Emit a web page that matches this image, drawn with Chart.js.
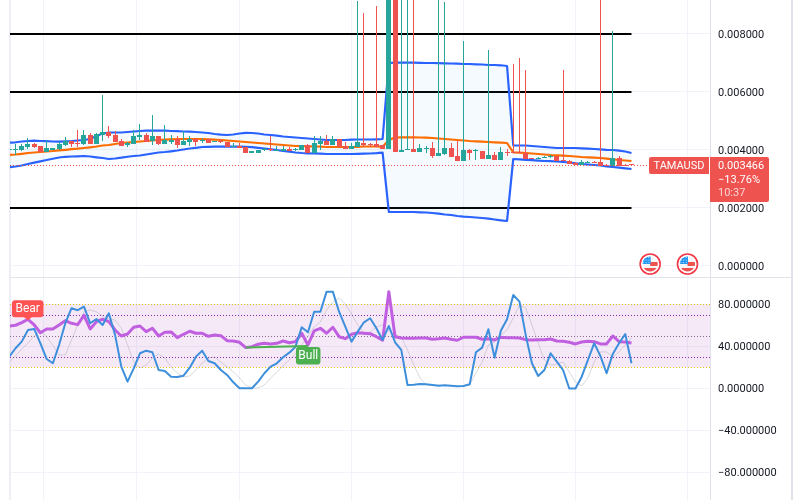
<!DOCTYPE html>
<html><head><meta charset="utf-8">
<style>html,body{margin:0;padding:0;background:#fff}canvas{display:block}</style>
<script src="https://cdn.jsdelivr.net/npm/chart.js@4/dist/chart.umd.js"></script>
</head><body><canvas id="c" width="802" height="500"></canvas>
<script>
const symbol='TAMAUSD';
const lastPrice=0.003466, changeText='\u221213.76%', countdownText='10:37';
const priceTicks=[0.008,0.006,0.004,0.002,0];
const oscTicks=[80,40,0,-40,-80];
const levelLines=[0.008,0.006,0.002];
const gridIndex=[13,28,46,64,82,100];
const eventIndex=[103,109];
const open=[.00399,.004,.004,.004114,.004207,.004138,.003931,.004,.004034,.004172,
.00431,.004224,.004207,.004517,.004207,.004517,.004621,.004517,.00431,.004172,
.004207,.004459,.004517,.00431,.004483,.004207,.004286,.004379,.004172,.004286,
.004379,.00431,.004379,.004276,.004321,.004276,.004103,.004138,.004103,.003897,
.003897,.003983,.004017,.003966,.003966,.004034,.004,.004,.004172,.003897,
.004207,.00431,.004172,.004379,.004138,.004034,.004103,.004241,.004207,.004207,
.004172,.004034,.0105,.003931,.004,.004034,.003931,.004034,.004069,.003793,
.003862,.004069,.003793,.003621,.004,.003966,.003966,.00369,.003828,.003655,
.003931,.003931,.003931,.003897,.003724,.00369,.003724,.003759,.003793,.003655,
.003621,.003552,.003483,.003552,.003586,.003586,.003483,.003448,.003724,.003483,
.003483];
const close=[.004,.004034,.004138,.004207,.004114,.003931,.004069,.004069,.004207,.00431,
.004217,.00419,.004517,.004207,.004552,.004621,.004483,.004276,.004138,.004241,
.004483,.004517,.004276,.004483,.004207,.004345,.004345,.004172,.00431,.004379,
.004276,.004345,.004241,.00431,.004276,.004103,.004138,.004069,.003897,.003966,
.004,.004017,.003983,.004,.004034,.003966,.004034,.004172,.003897,.004241,
.00431,.004172,.004379,.004103,.004034,.004138,.004276,.004172,.004172,.004103,
.004034,.0105,.003931,.004,.004034,.003931,.004069,.004069,.003793,.003897,
.004069,.003759,.003621,.004,.003897,.004,.00369,.003828,.003655,.003931,
.003897,.003897,.003897,.00369,.00369,.003724,.003759,.003793,.003621,.003621,
.003517,.003483,.003586,.003586,.003552,.003448,.003448,.003724,.003448,.003448,
.003466];
const high=[.004,.004207,.00419,.004404,.004231,.004138,.004345,.004069,.004276,.004448,
.00431,.00469,.00469,.004586,.004586,.005897,.004828,.004655,.004379,.004276,
.00469,.004897,.004586,.005207,.004483,.004862,.004517,.004483,.004655,.004483,
.004414,.004414,.004379,.00431,.004379,.004276,.004241,.004241,.004103,.003966,
.004,.004069,.004483,.004138,.004138,.004103,.004069,.004172,.004207,.004483,
.004483,.004517,.004483,.004379,.004276,.004241,.009138,.008724,.004241,.008966,
.004172,.0115,.0115,.01,.01,.01,.004207,.004138,.004276,.01,
.009103,.004241,.00431,.007759,.004034,.004034,.003966,.007448,.003931,.004103,
.004034,.006966,.007172,.006759,.003724,.003759,.003793,.003828,.003793,.006759,
.003655,.003586,.003655,.003621,.003621,.01,.003517,.008103,.003793,.003517,
.003483];
const low=[.003985,.003828,.003966,.004034,.004059,.003931,.003931,.004,.004,.004138,
.004103,.004114,.004172,.004207,.004207,.00431,.004414,.004276,.004138,.004114,
.004207,.004345,.004276,.004172,.004172,.004207,.004207,.004069,.004172,.004138,
.004138,.004241,.004241,.004276,.004241,.004103,.004103,.004069,.003897,.003897,
.003897,.003966,.003966,.003966,.003966,.003966,.003966,.004,.003897,.003897,
.004,.004172,.004172,.004103,.004034,.004034,.004103,.004103,.004103,.004103,
.004034,.004034,.003931,.003931,.004,.003931,.003931,.003897,.003724,.003793,
.003828,.003759,.003621,.003621,.003655,.003655,.00369,.00369,.003655,.003655,
.003793,.003897,.003897,.00369,.00369,.00369,.003724,.003724,.003621,.003621,
.003517,.003483,.003483,.003552,.003552,.003448,.003448,.003448,.003448,.003448,
.003448];
const bandUpper=[.004252,.004266,.004293,.00431,.004321,.00431,.004303,.004293,.004286,.0043,
.00431,.004328,.004345,.004379,.004483,.004569,.004603,.004603,.004603,.004621,
.004638,.004655,.004666,.004666,.004666,.004666,.004655,.004648,.004638,.004631,
.004621,.004603,.004586,.004552,.004528,.004517,.004534,.004569,.004593,.004586,
.004569,.004534,.004517,.004493,.004466,.004448,.004431,.004414,.004397,.004379,
.004362,.004345,.004345,.004345,.004345,.004355,.004362,.004362,.004362,.004369,
.004379,.007,.00701,.00701,.00701,.00701,.007007,.007,.007,.006993,
.00699,.006983,.006976,.006966,.006966,.006955,.006948,.006931,.006931,.006921,
.006897,.004155,.004155,.004155,.004138,.004121,.004103,.004086,.004069,.004069,
.004069,.004069,.004059,.004045,.004034,.004024,.004007,.004,.003976,.003948,
.003897];
const bandMiddle=[.003828,.003845,.003869,.003897,.003914,.003931,.003948,.003966,.00399,.004007,
.004028,.004045,.004069,.004093,.004121,.004155,.004172,.004207,.004241,.004259,
.004276,.004293,.00431,.004328,.004345,.004355,.004366,.004379,.004379,.004379,
.004379,.004379,.004369,.004355,.004345,.004328,.00431,.004293,.004276,.004259,
.004241,.004224,.004207,.00419,.004172,.004155,.004138,.004138,.004128,.004121,
.004114,.004103,.004103,.004103,.004103,.004103,.00411,.004121,.004121,.004121,
.004114,.004345,.004431,.004438,.004438,.004438,.004431,.004424,.004414,.004397,
.004379,.004362,.004345,.004328,.00431,.0043,.004286,.004276,.004266,.004252,
.004241,.003921,.003907,.003897,.003879,.003862,.003845,.003828,.003817,.003803,
.003793,.003776,.003759,.003748,.003734,.003724,.0037,.003679,.003655,.003638,
.003621];
const bandLower=[.003403,.003431,.003466,.003517,.003562,.00361,.003655,.003697,.003741,.003766,
.003776,.003783,.003793,.003776,.003748,.003724,.00369,.003707,.003734,.003766,
.003793,.00381,.003845,.003879,.003914,.003931,.003955,.003983,.004017,.004052,
.004076,.004103,.00411,.004114,.004114,.004114,.004114,.004114,.00411,.004097,
.004076,.004052,.004024,.004,.003966,.003941,.003914,.003897,.003886,.003879,
.003872,.003862,.003862,.003862,.003862,.003862,.003869,.003872,.003879,.00389,
.003907,.001862,.001862,.001862,.001862,.001862,.001852,.001845,.001828,.001803,
.001776,.001759,.001724,.0017,.00169,.001672,.001655,.001631,.001603,.001576,
.001552,.00369,.003679,.003662,.003648,.003634,.003621,.003614,.003603,.003586,
.003569,.003541,.003517,.0035,.003483,.003466,.003438,.003414,.00339,.003369,
.003345];
const oscBlue=[30.3,38.3,44.6,55.7,56.7,43,28.1,24,41.4,62.1,
76.4,74.5,77.9,62.1,66.2,60.5,71.6,51,20.8,6.5,
19.2,33.5,36,34.5,17.6,16.7,11.2,11,12.2,19.8,
30.3,36,26.2,24,17.6,12.9,5.9,.2,.2,.2,
6.5,14.5,20.8,24,29.7,34.1,39.8,58.3,53.5,73.1,
73.1,92.2,92.2,73.1,58.9,44.6,54.1,63,66.9,57.3,
46.2,59.5,44,36.7,3.3,3.6,4.3,4,3.3,2.7,
3,2.7,2.1,2.4,4,34.5,38.9,56.4,29.3,55,
65.9,89,82.7,51,24,11.9,17.6,33.5,25.5,17.6,
0,0,11.2,27.1,43,31,14.5,32.9,43,51.9,
24];
const oscPurple=[59.5,60.2,62.7,65.9,60.5,53.1,56.7,56.7,60.5,64.6,
62.1,60.8,69.7,56.7,63.6,65.9,63.6,55.7,50,51.9,
58.3,59.5,54.1,57.3,50,53.5,53.8,48.4,51.6,54.5,
52.6,52.6,49.7,51,50.3,45.5,45.2,44,38.9,39.8,
42.1,43,42.4,43,45.2,43.6,44.6,52.6,41.4,54.8,
57.3,52.6,58.3,49.3,47.4,51.6,53.1,52.6,52.2,49.3,
45.9,92.2,49.3,48.1,47.8,47.8,48.1,48.1,46.9,47.4,
48.1,46.9,45.9,48.8,48.8,48.8,46.9,47.4,46.2,48.8,
48.4,48.4,48.1,46.5,46.2,46.5,46.5,47.1,45.2,45,
44,42.4,44.3,45,44.6,42.4,42.4,50,44.6,44.3,
43.3];
const oscGrey=[25.2,31,37.6,43.3,50,54.8,49,41.4,31.9,31.9,
46.2,60.5,72.9,74.8,72.9,69,66.2,65.2,57.6,41.4,
25.2,19.5,22.4,29,32.9,29,20.5,14.8,11,11.9,
17.6,24.3,29,30,25.2,20.5,15.7,10,3.3,.5,
.5,3.3,10,15.7,21.4,27.1,32.9,41.4,50,58.6,
63.3,74.8,82.4,86.2,80.5,71,60.5,52.9,53.8,58.6,
60.5,54.8,51,49,36.7,22.4,10,3.3,3.3,3.3,
2.9,2.4,1.9,2.4,3.3,14.8,25.2,41.4,44.3,51,
55.7,67.1,79.5,76.7,60.5,43.3,27.1,22.4,23.3,25.2,
15.7,6.2,2.4,10,25.2,34.8,34.8,30,34.8,41.4,
48.1];
const bullIndex=[38,48], bullValue=[39,40.5];
const bearLabelIndex=3, bullLabelIndex=48;
const oscBands=[20,80], oscDots=[70,50,30];

const CANDLE_UP='#26a69a', CANDLE_DOWN='#ef5350', FONT='Roboto, "Liberation Sans", sans-serif';
[open,close,high,low,bandUpper,bandMiddle,bandLower,oscBlue,oscPurple,oscGrey].forEach((a,i)=>{if(a.length!==101)throw new Error('len '+i+' '+a.length)});

const pts=a=>a.map((y,x)=>({x,y}));
const lineSet=(data,color,width,yAxisID,order,extra)=>Object.assign({type:'line',data,borderColor:color,borderWidth:width,pointRadius:0,yAxisID,xAxisID:'x',order,tension:0,fill:false,borderJoinStyle:'round'},extra||{});
const candleColor=ctx=>close[ctx.dataIndex]>=open[ctx.dataIndex]?CANDLE_UP:CANDLE_DOWN;

const datasets=[];
levelLines.forEach(v=>datasets.push(lineSet([{x:0,y:v},{x:100,y:v}],'#000',2,'y',10)));
datasets.push(lineSet(pts(bandLower),'#2962ff',2.2,'y',6));
const lowerIdx=datasets.length-1;
datasets.push(lineSet(pts(bandUpper),'#2962ff',2.2,'y',6,{fill:{target:lowerIdx,above:'rgba(33,150,243,0.05)',below:'rgba(33,150,243,0.05)'}}));
datasets.push(lineSet(pts(bandMiddle),'#ff6d00',2.2,'y',5));
datasets.push({type:'bar',data:high.map((h,i)=>({x:i,y:[low[i],h]})),backgroundColor:candleColor,barThickness:1,grouped:false,yAxisID:'y',xAxisID:'x',order:3,inflateAmount:0,borderWidth:0});
datasets.push({type:'bar',data:open.map((o,i)=>({x:i,y:[o,close[i]]})),backgroundColor:candleColor,barThickness:5,grouped:false,minBarLength:1,yAxisID:'y',xAxisID:'x',order:2,inflateAmount:0,borderWidth:0});
datasets.push(lineSet(pts(oscGrey),'rgba(120,123,134,0.28)',1,'y2',4));
datasets.push(lineSet(pts(oscPurple),'#c060e0',3,'y2',3));
datasets.push(lineSet(pts(oscBlue),'#3d8fdc',2,'y2',2));
datasets.push(lineSet(bullIndex.map((x,i)=>({x,y:bullValue[i]})),'#4caf50',2,'y2',1));

const roundRect=(c,x,y,w,h,r)=>{c.beginPath();c.roundRect(x,y,w,h,r);};
function drawFlag(c,cx,cy){
  c.save();
  c.beginPath();c.arc(cx,cy,10,0,Math.PI*2);c.fillStyle='#fff';c.fill();
  c.lineWidth=1.6;c.strokeStyle='#f23645';c.stroke();
  c.beginPath();c.arc(cx,cy,7.6,0,Math.PI*2);c.clip();
  c.fillStyle='#f7f7f7';c.fillRect(cx-9,cy-9,18,18);
  c.fillStyle='#ef5350';c.fillRect(cx,cy-2,9,4);c.fillRect(cx-9,cy+4,18,5);
  c.fillStyle='#2196f3';c.fillRect(cx-9,cy-9,9.5,9);
  c.fillStyle='rgba(255,255,255,.75)';
  for(let i=0;i<3;i++)for(let j=0;j<3;j++)c.fillRect(cx-7+i*2.6,cy-7+j*2.6,1,1);
  c.restore();
}
const paneBackdrop={id:'paneBackdrop',beforeDatasetsDraw(chart){
  const c=chart.ctx,a=chart.chartArea,y2=chart.scales.y2;
  c.save();
  c.fillStyle='#eeeef5';c.fillRect(9,0,2,500);
  const top=y2.getPixelForValue(oscBands[1]),bot=y2.getPixelForValue(oscBands[0]);
  c.fillStyle='rgba(156,39,176,0.1)';c.fillRect(a.left,top,a.right-a.left,bot-top);
  c.lineWidth=1;
  c.setLineDash([1,2]);
  oscBands.forEach(v=>{const p=Math.round(y2.getPixelForValue(v))+.5;c.strokeStyle='#e8c800';c.beginPath();c.moveTo(a.left,p);c.lineTo(a.right,p);c.stroke();});
  oscDots.forEach(v=>{const p=Math.round(y2.getPixelForValue(v))+.5;c.strokeStyle=v===50?'#8a6a90':'#8e24aa';c.beginPath();c.moveTo(a.left,p);c.lineTo(a.right,p);c.stroke();});
  c.restore();
},beforeDatasetDraw(chart,args){
  const meta=chart.getDatasetMeta(args.index);
  if(meta.type==='bar')meta.data.forEach(el=>{
    el.x=Math.floor(el.x)+.5;el.y=Math.round(el.y);el.base=Math.round(el.base);
    if(el.y===el.base)el.base=el.y+1;
  });
},afterDraw(chart){
  const c=chart.ctx,a=chart.chartArea,y=chart.scales.y,y2=chart.scales.y2,x=chart.scales.x;
  c.save();
  // panel frame
  c.fillStyle='#e0e3eb';
  c.fillRect(710,0,1,500);c.fillRect(791,0,2,500);c.fillRect(10,277,781,1);
  // price line
  const py=y.getPixelForValue(lastPrice);
  c.strokeStyle='#ef5350';c.lineWidth=1;c.setLineDash([1,2]);
  c.beginPath();c.moveTo(a.left,Math.round(py)+.5);c.lineTo(650,Math.round(py)+.5);c.stroke();c.setLineDash([]);
  // symbol & price tags
  const ty=Math.round(py)-8;
  c.fillStyle='#ef5350';
  roundRect(c,649,ty,60,17,[2,0,0,2]);c.fill();
  roundRect(c,710,ty,59,45,[0,2,2,0]);c.fill();
  c.font='11px '+FONT;c.textBaseline='middle';c.textAlign='left';
  c.fillStyle='#fff';
  c.fillText(symbol,653.5,ty+9);
  c.fillText(lastPrice.toFixed(6),718,ty+9);
  c.fillText(changeText,718,ty+23);
  c.fillStyle='rgba(255,255,255,.75)';c.fillText(countdownText,718,ty+36.5);
  // earnings flags
  eventIndex.forEach(i=>drawFlag(c,x.getPixelForValue(i),y.getPixelForValue(0.0000690)));
  // Bear / Bull tags
  c.font='12px '+FONT;
  const bx=x.getPixelForValue(bearLabelIndex),by=y2.getPixelForValue(oscPurple[bearLabelIndex]);
  c.fillStyle='#ff5252';
  roundRect(c,bx-16,by-19,31.5,17,3);c.fill();
  c.beginPath();c.moveTo(bx-5,by-3);c.lineTo(bx,by+1);c.lineTo(bx+5,by-3);c.fill();
  c.fillStyle='#fff';c.textAlign='center';c.fillText('Bear',bx-.3,by-10);
  const ux=x.getPixelForValue(bullLabelIndex),uy=y2.getPixelForValue(oscPurple[bullLabelIndex]);
  c.fillStyle='#4caf50';
  roundRect(c,ux-12,uy+2,24.5,17.5,3);c.fill();
  c.fillStyle='#fff';c.fillText('Bull',ux+.3,uy+11.5);
  c.restore();
}};
const noPad=s=>{s.paddingTop=0;s.paddingBottom=0;s.paddingLeft=0;s.paddingRight=0;};
new Chart(document.getElementById('c'),{
  type:'line',
  data:{datasets},
  plugins:[paneBackdrop],
  options:{
    responsive:false,animation:false,devicePixelRatio:1,
    layout:{padding:{left:10,right:0,top:0,bottom:0}},
    plugins:{legend:{display:false},tooltip:{enabled:false},title:{display:false}},
    scales:{
      x:{type:'linear',position:'bottom',offset:false,min:.112,max:112.62,
        afterBuildTicks(s){s.ticks=gridIndex.map(value=>({value}));},
        afterFit:noPad,
        ticks:{display:false},grid:{color:'#f0f3fa',drawTicks:false,lineWidth:1},border:{display:false}},
      y:{type:'linear',position:'right',stack:'panes',stackWeight:276,weight:1,min:-0.000345,max:0.009172,
        afterBuildTicks(s){s.ticks=priceTicks.map(value=>({value}));},
        afterFit(s){s.width=92;noPad(s);},
        ticks:{autoSkip:false,padding:8,labelOffset:1,color:'#131722',font:{size:11,family:FONT},crossAlign:'near',callback:v=>v.toFixed(6)},
        grid:{color:'#f0f3fa',drawTicks:false},border:{display:false}},
      y2:{type:'linear',position:'right',stack:'panes',stackWeight:224,weight:2,min:-106.2,max:107.1,
        afterBuildTicks(s){s.ticks=oscTicks.map(value=>({value}));},
        afterFit(s){s.width=92;noPad(s);},
        ticks:{autoSkip:false,padding:8,labelOffset:1,color:'#131722',font:{size:11,family:FONT},crossAlign:'near',callback:v=>(v<0?'\u2212':'')+Math.abs(v).toFixed(6)},
        grid:{color:'#f0f3fa',drawTicks:false},border:{display:false}}
    }
  }
});
</script></body></html>
